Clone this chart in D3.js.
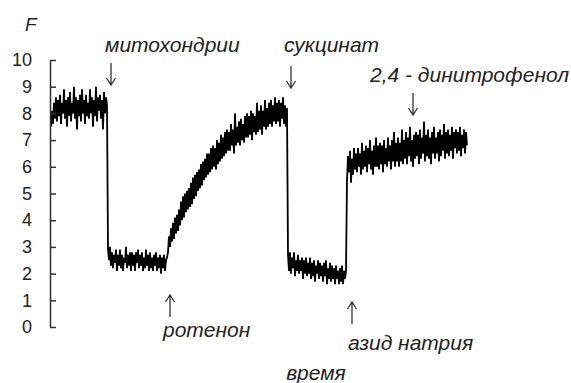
<!DOCTYPE html>
<html>
<head>
<meta charset="utf-8">
<script src="https://cdn.jsdelivr.net/npm/d3@7"></script>
<style>
  body { margin: 0; background: #fff; }
  svg { display: block; font-family: "Liberation Sans", Arial, sans-serif; }
</style>
</head>
<body>
<div id="chart"></div>
<script>
// event times (arbitrary time units), fluorescence F
const eventTimes = [0, 57, 117, 237, 296, 417];

const baseline = [7.5, 8.1, 7.6, 8.4, 7.8, 8.6, 7.7, 8.5, 7.9, 8.7, 7.6, 8.4, 8.0, 8.9, 7.8, 8.5, 7.5, 8.6, 7.9, 8.8,
  7.7, 8.4, 8.0, 9.0, 7.8, 8.6, 7.4, 8.5, 7.9, 8.7, 7.7, 8.9, 8.0, 8.5, 7.6, 8.7, 7.9, 8.4, 7.8, 8.9,
  8.0, 8.6, 7.5, 8.5, 7.9, 9.0, 7.7, 8.6, 8.1, 8.7, 7.8, 8.5, 7.4, 8.8, 8.0, 8.6, 8.3];

const mitochondria = [2.9, 2.5, 3.0, 2.3, 2.8, 2.2, 2.7, 2.4, 2.9, 2.1, 2.7, 2.3, 2.9, 2.2, 2.7, 2.1, 2.6, 2.4, 3.0, 2.2,
  2.7, 2.3, 2.8, 2.1, 2.8, 2.3, 2.7, 2.1, 2.8, 2.4, 2.9, 2.2, 2.7, 2.3, 2.8, 2.1, 2.6, 2.2, 2.9, 2.3,
  2.7, 2.1, 2.8, 2.2, 2.6, 2.1, 2.7, 2.3, 2.8, 2.1, 2.6, 2.2, 2.7, 2.0, 2.6, 2.2, 2.7, 2.1, 2.5, 2.6];

const rotenone = [2.8, 3.4, 3.0, 3.7, 3.2, 3.9, 3.3, 4.1, 3.5, 4.2,
  3.6, 4.4, 3.8, 4.7, 4.0, 4.9, 4.1, 5.0, 4.3, 5.1,
  4.4, 5.2, 4.5, 5.4, 4.6, 5.6, 4.8, 5.7, 4.9, 5.8,
  5.1, 5.9, 5.2, 6.1, 5.3, 6.2, 5.5, 6.3, 5.6, 6.5,
  5.7, 6.5, 5.8, 6.7, 5.9, 6.8, 6.0, 6.7, 5.9, 7.0,
  6.1, 6.9, 6.2, 7.2, 6.3, 7.1, 6.4, 7.3, 6.5, 7.4,
  6.6, 7.3, 6.6, 7.6, 6.8, 7.4, 6.5, 8.0, 6.8, 7.5,
  6.9, 7.7, 6.8, 7.8, 7.0, 7.6, 6.9, 7.9, 7.1, 8.0,
  7.1, 7.9, 7.2, 8.1, 7.0, 8.0, 7.3, 7.9, 7.2, 8.4,
  7.3, 8.1, 7.4, 8.3, 7.2, 8.1, 7.5, 8.5, 7.4, 8.2,
  7.5, 8.4, 7.6, 8.5, 7.5, 8.3, 7.7, 8.6, 7.6, 8.4,
  7.7, 8.5, 7.5, 8.4, 7.8, 8.6, 7.6, 8.3, 7.5, 8.2];

const succinate = [2.7, 2.1, 2.8, 2.0, 2.6, 2.2, 2.8, 1.9, 2.5, 2.1, 2.7, 2.0, 2.5, 2.1, 2.6, 1.8, 2.5, 2.0, 2.6, 1.9,
  2.4, 2.0, 2.6, 1.8, 2.4, 1.9, 2.5, 1.7, 2.3, 2.0, 2.5, 1.8, 2.4, 1.9, 2.3, 1.7, 2.4, 1.9, 2.5, 1.6,
  2.2, 1.8, 2.4, 1.7, 2.3, 1.8, 2.2, 1.6, 2.3, 1.8, 2.1, 1.6, 2.2, 1.7, 2.3, 1.6, 2.1, 1.8, 2.1];

const azide = [5.5, 6.4, 5.8, 6.6, 5.4, 6.3, 5.7, 6.7, 5.9, 6.5,
  5.8, 6.7, 6.0, 6.5, 5.7, 6.9, 5.9, 6.6, 6.0, 6.8,
  5.8, 6.7, 6.1, 7.0, 5.9, 6.6, 5.7, 6.8, 6.0, 7.1,
  6.0, 6.8, 5.9, 6.9, 6.1, 6.8, 5.8, 7.0, 6.1, 6.7,
  6.0, 7.1, 6.2, 6.8, 5.9, 7.0, 6.2, 7.3, 6.0, 6.9,
  6.2, 7.1, 6.0, 6.9, 6.2, 7.4, 6.1, 7.0, 6.3, 7.3,
  6.1, 7.1, 6.4, 7.5, 6.2, 7.0, 6.0, 7.2, 6.3, 7.3,
  6.4, 7.2, 6.1, 7.4, 6.3, 7.1, 6.5, 7.7, 6.2, 7.2,
  6.4, 7.4, 6.3, 7.1, 6.1, 7.3, 6.5, 7.5, 6.3, 7.1,
  6.5, 7.3, 6.2, 7.4, 6.4, 7.2, 6.6, 7.6, 6.3, 7.3,
  6.5, 7.4, 6.4, 7.2, 6.6, 7.5, 6.3, 7.3, 6.7, 7.4,
  6.5, 7.3, 6.6, 7.5, 6.4, 7.2, 6.7, 7.4, 6.5, 7.3, 6.8];

const segments = [baseline, mitochondria, rotenone, succinate, azide];

const yTicks = [0, 1, 2, 3, 4, 5, 6, 7, 8, 9, 10];

// additions: label, time, arrow direction
const additions = [
  { label: "митохондрии", t: 60, dir: "down" },
  { label: "ротенон", t: 119, dir: "up" },
  { label: "сукцинат", t: 240, dir: "down" },
  { label: "азид натрия", t: 301, dir: "up" },
  { label: "2,4 - динитрофенол", t: 362, dir: "down" }
];

const width = 571, height = 383;
const margin = { top: 60, right: 103, bottom: 56, left: 51 };

const svg = d3.select("#chart").append("svg")
  .attr("width", width)
  .attr("height", height);

const x = d3.scaleLinear()
  .domain([eventTimes[0], eventTimes[eventTimes.length - 1]])
  .range([margin.left, width - margin.right]);

const y = d3.scaleLinear()
  .domain([0, 10])
  .range([height - margin.bottom, margin.top]);

// flatten segments into time points between their event times
const trace = [];
segments.forEach((vals, i) => {
  const t0 = eventTimes[i], t1 = eventTimes[i + 1];
  const step = (t1 - t0) / vals.length;
  vals.forEach((v, j) => trace.push({ t: t0 + j * step, v: v }));
});

const line = d3.line()
  .x(d => x(d.t))
  .y(d => y(d.v));

svg.append("path")
  .datum(trace)
  .attr("fill", "none")
  .attr("stroke", "#000")
  .attr("stroke-width", 1.8)
  .attr("stroke-linejoin", "miter")
  .attr("d", line);

// y axis, ticks pointing into the plot
const yAxis = svg.append("g")
  .attr("transform", `translate(${margin.left - 1},0)`)
  .call(d3.axisLeft(y).tickValues(yTicks).tickSizeInner(-6).tickSizeOuter(0).tickPadding(18));

yAxis.select(".domain").attr("stroke", "#333").attr("stroke-width", 1.5);
yAxis.selectAll(".tick line").attr("stroke", "#333").attr("stroke-width", 1.5);
yAxis.selectAll(".tick text")
  .attr("font-size", 18)
  .attr("fill", "#222")
  .attr("font-family", "Liberation Sans, Arial, sans-serif");

svg.append("text")
  .attr("x", 25)
  .attr("y", 31)
  .attr("font-size", 19)
  .attr("font-style", "italic")
  .attr("fill", "#222")
  .text("F");

svg.append("text")
  .attr("x", x(265))
  .attr("y", 380)
  .attr("text-anchor", "middle")
  .attr("font-size", 21)
  .attr("font-style", "italic")
  .attr("fill", "#222")
  .text("время");

// arrows and labels
const arrowLen = 22;
const labelPos = {
  "митохондрии": { ay: 63, ty: 52, dx: -6 },
  "сукцинат": { ay: 66, ty: 52, dx: -7 },
  "2,4 - динитрофенол": { ay: 93, ty: 82, dx: -43 },
  "ротенон": { ay: 295, ty: 337, dx: -7 },
  "азид натрия": { ay: 302, ty: 350, dx: -4 }
};

additions.forEach(a => {
  const p = labelPos[a.label];
  const ax = x(a.t);
  const y0 = p.ay, y1 = p.ay + arrowLen;
  const tip = a.dir === "down" ? y1 : y0;
  const s = a.dir === "down" ? -1 : 1;
  svg.append("path")
    .attr("d", `M${ax},${y0}V${y1}M${ax - 4.5},${tip + s * 7}L${ax},${tip}L${ax + 4.5},${tip + s * 7}`)
    .attr("fill", "none")
    .attr("stroke", "#333")
    .attr("stroke-width", 1.3);
  svg.append("text")
    .attr("x", ax + p.dx)
    .attr("y", p.ty)
    .attr("font-size", 21)
    .attr("font-style", "italic")
    .attr("fill", "#222")
    .text(a.label);
});
</script>
</body>
</html>
